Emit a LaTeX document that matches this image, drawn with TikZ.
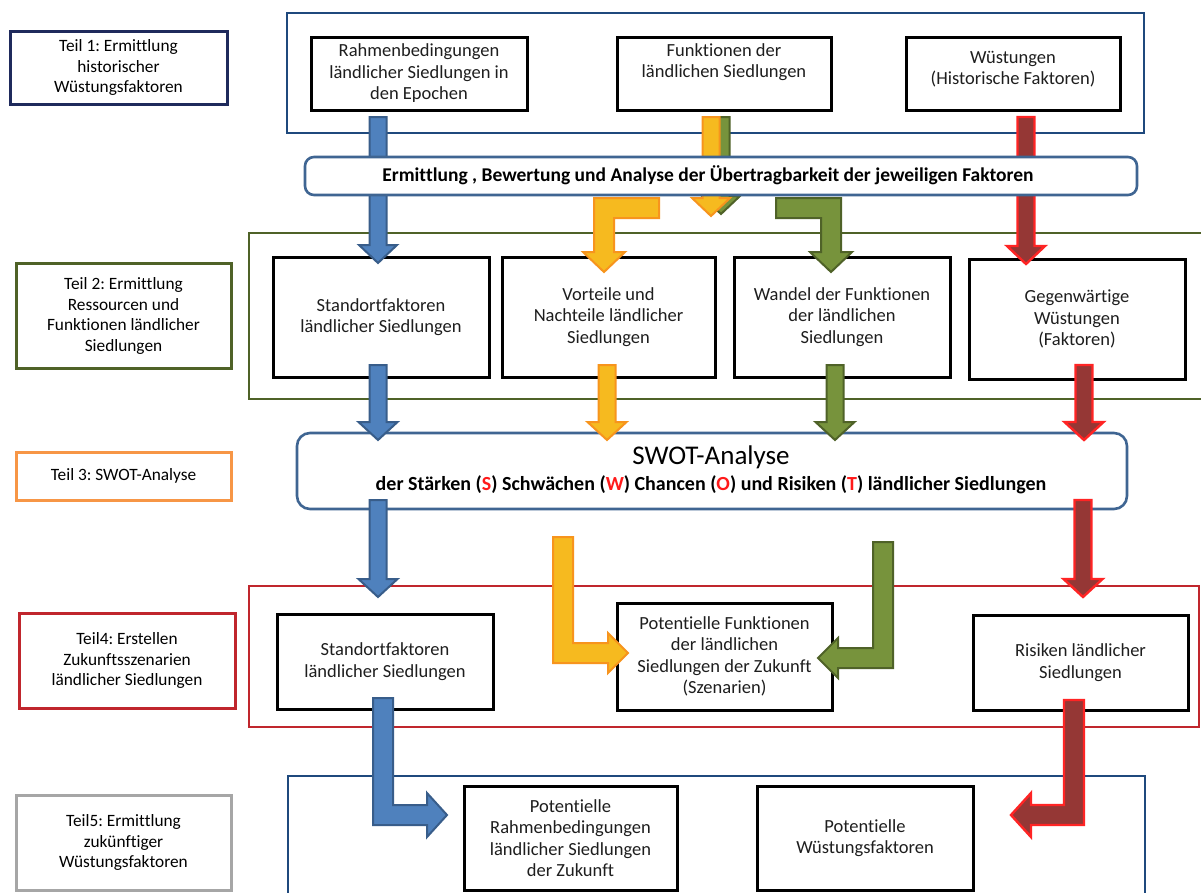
\documentclass[tikz,border=0pt]{standalone}
\usepackage{fontspec}
\setmainfont{Carlito}[Ligatures=NoCommon]
\frenchspacing

\definecolor{navy}{HTML}{1F2A5C}
\definecolor{frameblue}{HTML}{1F497D}
\definecolor{roundblue}{HTML}{3F6592}
\definecolor{framegreen}{HTML}{4F6228}
\definecolor{frameorange}{HTML}{F79646}
\definecolor{framered}{HTML}{C0262D}
\definecolor{framegray}{HTML}{A6A6A6}
\definecolor{txt}{HTML}{1E1E1E}
\definecolor{swred}{HTML}{FF1A1A}
% block arrow colours
\definecolor{bluefill}{HTML}{4F81BD}
\definecolor{blueline}{HTML}{385D8A}
\definecolor{orfill}{HTML}{F6BA1F}
\definecolor{orline}{HTML}{F7941D}
\definecolor{grfill}{HTML}{77933C}
\definecolor{grline}{HTML}{4F6228}
\definecolor{rdfill}{HTML}{953735}
\definecolor{rdline}{HTML}{FF2424}

\newcommand{\boxfont}{\fontsize{18.5}{21.5}\selectfont}
\newcommand{\labfont}{\fontsize{17.3}{20.8}\selectfont}

% block arrow geometry: shaft half width, head half width, head length
\def\sw{8.5}\def\hw{19}\def\hl{18}

% straight arrow pointing down: style, x, y of tail, y of tip
\newcommand{\ArrDown}[4]{%
  \filldraw[#1] ({#2-\sw},#3) -- ({#2+\sw},#3) -- ({#2+\sw},{#4-\hl}) -- ({#2+\hw},{#4-\hl})
    -- (#2,#4) -- ({#2-\hw},{#4-\hl}) -- ({#2-\sw},{#4-\hl}) -- cycle;}

% arrow going down, then turning sideways: style, x, y of tail, y of bend, x of tip
\newcommand{\ArrDownTurn}[5]{%
  \pgfmathsetmacro{\ArrSg}{sign(#5-#2)}%
  \filldraw[#1] ({#2-(\ArrSg)*\sw},#3) -- ({#2+(\ArrSg)*\sw},#3) -- ({#2+(\ArrSg)*\sw},{#4-\sw})
    -- ({#5-(\ArrSg)*\hl},{#4-\sw}) -- ({#5-(\ArrSg)*\hl},{#4-\hw}) -- (#5,#4)
    -- ({#5-(\ArrSg)*\hl},{#4+\hw}) -- ({#5-(\ArrSg)*\hl},{#4+\sw}) -- ({#2-(\ArrSg)*\sw},{#4+\sw}) -- cycle;}

% arrow running sideways, then turning down: style, x of tail, y of bar, x of shaft, y of tip
\newcommand{\ArrTurnDown}[5]{%
  \pgfmathsetmacro{\ArrSg}{sign(#2-#4)}%
  \filldraw[#1] (#2,{#3-\sw}) -- ({#4-(\ArrSg)*\sw},{#3-\sw}) -- ({#4-(\ArrSg)*\sw},{#5-\hl})
    -- ({#4-(\ArrSg)*\hw},{#5-\hl}) -- (#4,#5) -- ({#4+(\ArrSg)*\hw},{#5-\hl})
    -- ({#4+(\ArrSg)*\sw},{#5-\hl}) -- ({#4+(\ArrSg)*\sw},{#3+\sw}) -- (#2,{#3+\sw}) -- cycle;}

\tikzset{
  box/.style={draw=black, line width=3pt, fill=white, inner sep=0pt, align=center,
    font=\boxfont, text=txt},
  plain/.style={inner sep=0pt, align=center, font=\boxfont, text=txt},
  lab/.style={line width=3pt, fill=white, inner sep=0pt, align=center, font=\labfont, text=black},
  frame/.style={line width=2.6pt},
  roundbox/.style={draw=roundblue, line width=2.6pt, fill=white, rounded corners=9pt, inner sep=0pt},
  barrow/.style={fill=bluefill, draw=blueline, line width=2pt, line join=miter},
  oarrow/.style={fill=orfill, draw=orline, line width=2pt, line join=miter},
  garrow/.style={fill=grfill, draw=grline, line width=2pt, line join=miter},
  rarrow/.style={fill=rdfill, draw=rdline, line width=2.4pt, line join=miter},
}

\begin{document}
\begin{tikzpicture}[x=1pt, y={(0pt,-1pt)}]
\useasboundingbox (0,0) rectangle (1201,892);
\clip (0,0) rectangle (1201,892);
\fill[white] (0,0) rectangle (1201,892);

% ---- section labels on the left
\node[lab, draw=navy, minimum width=217pt, minimum height=73pt] (t1) at (118.5,67.5)
  {Teil 1: Ermittlung\\historischer\\Wüstungsfaktoren};
\node[lab, draw=framegreen, minimum width=215pt, minimum height=105pt] (t2) at (123.5,316)
  {Teil 2: Ermittlung\\Ressourcen und\\Funktionen ländlicher\\Siedlungen};
\node[lab, draw=frameorange, minimum width=215pt, minimum height=48pt] (t3) at (123.5,476)
  {Teil 3: SWOT-Analyse};
\node[lab, draw=framered, minimum width=216pt, minimum height=95pt] (t4) at (127,660.5)
  {Teil4: Erstellen\\Zukunftsszenarien\\ländlicher Siedlungen};
\node[lab, draw=framegray, minimum width=215pt, minimum height=95pt] (t5) at (123.5,842.5)
  {Teil5: Ermittlung\\zukünftiger\\Wüstungsfaktoren};

% ---- section frames
\draw[frame, draw=frameblue]  (287,13)  rectangle (1144,133);
\draw[frame, draw=framegreen] (249,233) rectangle (1206,399);
\draw[frame, draw=framered]   (249,586) rectangle (1199,727);
\draw[frame, draw=frameblue]  (288,776) rectangle (1145,910);

% ---- part 1 boxes
\node[box, minimum width=216pt, minimum height=73pt] (a1) at (419,73.5)
  {Rahmenbedingungen\\ländlicher Siedlungen in\\den Epochen};
\node[box, minimum width=214pt, minimum height=73pt] (a2) at (724,73.5) {};
\node[plain] (a2t) at (724,62) {Funktionen der\\ländlichen Siedlungen};
\node[box, minimum width=214pt, minimum height=73pt] (a3) at (1013,73.5) {};
\node[plain] (a3t) at (1013,69) {Wüstungen\\(Historische Faktoren)};

% ---- part 2 boxes
\node[box, minimum width=216pt, minimum height=120pt] (b1) at (381,317)
  {Standortfaktoren\\ländlicher Siedlungen};
\node[box, minimum width=213pt, minimum height=120pt] (b2) at (608.5,317)
  {Vorteile und\\Nachteile ländlicher\\Siedlungen};
\node[box, minimum width=216pt, minimum height=120pt] (b3) at (842,317)
  {Wandel der Funktionen\\der ländlichen\\Siedlungen};
\node[box, minimum width=216pt, minimum height=120pt] (b4) at (1077,319)
  {Gegenwärtige\\Wüstungen\\(Faktoren)};

% ---- part 4 boxes
\node[box, minimum width=216pt, minimum height=95pt] (c1) at (385,661.5)
  {Standortfaktoren\\ländlicher Siedlungen};
\node[box, minimum width=215pt, minimum height=107pt] (c2) at (724.5,656.5)
  {Potentielle Funktionen\\der ländlichen\\Siedlungen der Zukunft\\(Szenarien)};
\node[box, minimum width=215pt, minimum height=95pt] (c3) at (1080.5,662.5)
  {Risiken ländlicher\\Siedlungen};

% ---- part 5 boxes
\node[box, minimum width=213pt, minimum height=104pt] (d1) at (570.5,838)
  {Potentielle\\Rahmenbedingungen\\ländlicher Siedlungen\\der Zukunft};
\node[box, minimum width=216pt, minimum height=104pt] (d2) at (865,838)
  {Potentielle\\Wüstungsfaktoren};

% ---- arrows from part 1 (partly hidden by the evaluation bar)
\ArrDown{barrow}{378}{117}{263}
\ArrDown{rarrow}{1026}{117}{264}
\ArrDown{garrow}{721}{117}{214}
\ArrDown{oarrow}{711}{117}{216}
\def\sw{10}\def\hw{21}\def\hl{20}
\ArrTurnDown{oarrow}{659}{208}{604}{272}
\ArrTurnDown{garrow}{776}{208}{831}{272}

% ---- evaluation bar
\node[roundbox, minimum width=832pt, minimum height=38pt] (eval) at (721,176) {};
\node[plain, font=\fontsize{19.5}{23}\selectfont\bfseries, text=black] (evalt) at (708,175)
  {Ermittlung , Bewertung und Analyse der Übertragbarkeit der jeweiligen Faktoren};

% ---- SWOT bar
\node[roundbox, rounded corners=13pt, minimum width=830pt, minimum height=76pt] (swot) at (712,471) {};
\node[plain, font=\fontsize{27}{30}\selectfont, text=black] (swottitle) at (711,457) {SWOT-Analyse};
\node[plain, font=\fontsize{20}{23}\selectfont\bfseries, text=black] (swotsub) at (711,485)
  {der Stärken (\textcolor{swred}{S}) Schwächen (\textcolor{swred}{W}) Chancen (\textcolor{swred}{O}) und Risiken (\textcolor{swred}{T}) ländlicher Siedlungen};

% ---- arrows from part 2 into the SWOT bar
\def\sw{8.5}\def\hw{19.5}\def\hl{18}
\ArrDown{barrow}{378}{365}{440}
\ArrDown{oarrow}{607}{365}{440}
\ArrDown{garrow}{835}{365}{440}
\ArrDown{rarrow}{1084}{365}{440}

% ---- arrows from the SWOT bar into part 4
\ArrDown{barrow}{378}{500}{597}
\ArrDown{rarrow}{1083}{500}{597}
\def\sw{10}\def\hw{20}\def\hl{20}
\ArrDownTurn{oarrow}{563}{537}{653}{628}
\ArrDownTurn{garrow}{883}{542}{658}{818}

% ---- arrows into part 5
\def\sw{10}\def\hw{22}\def\hl{20}
\ArrDownTurn{barrow}{383}{698}{815}{447}
\ArrDownTurn{rarrow}{1074}{700}{815}{1011}
\end{tikzpicture}
\end{document}
